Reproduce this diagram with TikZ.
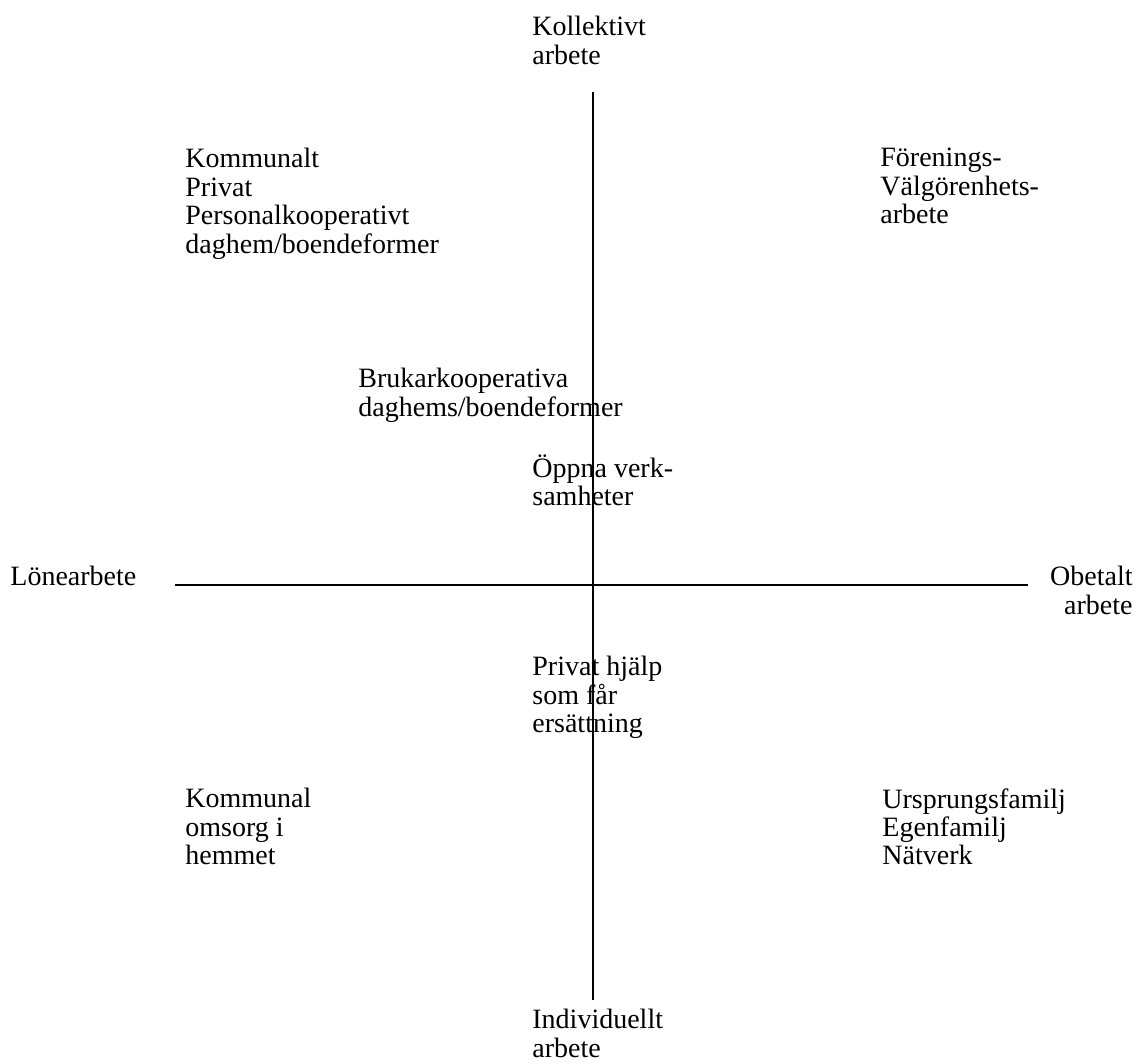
\documentclass[tikz,border=0pt]{standalone}
\usepackage{fontspec}
\setmainfont{Liberation Serif}
\usepackage{tikz}
\tikzset{
  txt/.style={anchor=north west, align=left, inner sep=0pt, font=\fontsize{14}{14.2}\selectfont},
  axis/.style={draw, line width=0.8pt}
}

\begin{document}
\begin{tikzpicture}[x=0.5pt, y=-0.5pt]
  \useasboundingbox (0,0) rectangle (1141,1064);

  \coordinate (top)    at (593, 92);
  \coordinate (bottom) at (593, 1000);
  \coordinate (left)   at (175, 585);
  \coordinate (right)  at (1028, 585);

  \path[axis] (top) -- (bottom);
  \path[axis] (left) -- (right);

  \node[txt] (kollektiv) at (532, 16) {Kollektivt\\arbete};
  \node[txt] (individ)   at (532, 1009) {Individuellt\\arbete};
  \node[txt] (lone)      at (10, 566) {Lönearbete};
  \node[txt, anchor=north east, align=right] (obetalt) at (1133, 566) {Obetalt\\arbete};

  \node[txt] (kommunalt) at (185, 148) {Kommunalt\\Privat\\Personalkooperativt\\daghem/boendeformer};
  \node[txt] (forening)  at (880, 148) {Förenings-\\Välgörenhets-\\arbete};
  \node[txt] (brukar)    at (358, 368) {Brukarkooperativa\\daghems/boendeformer};
  \node[txt] (oppna)     at (532, 454) {Öppna verk-\\samheter};

  \node[txt] (privat)    at (532, 656) {Privat hjälp\\som får\\ersättning};
  \node[txt] (kommunal)  at (185, 788) {Kommunal\\omsorg i\\hemmet};
  \node[txt] (urspr)     at (882, 788) {Ursprungsfamilj\\Egenfamilj\\Nätverk};

\end{tikzpicture}
\end{document}
